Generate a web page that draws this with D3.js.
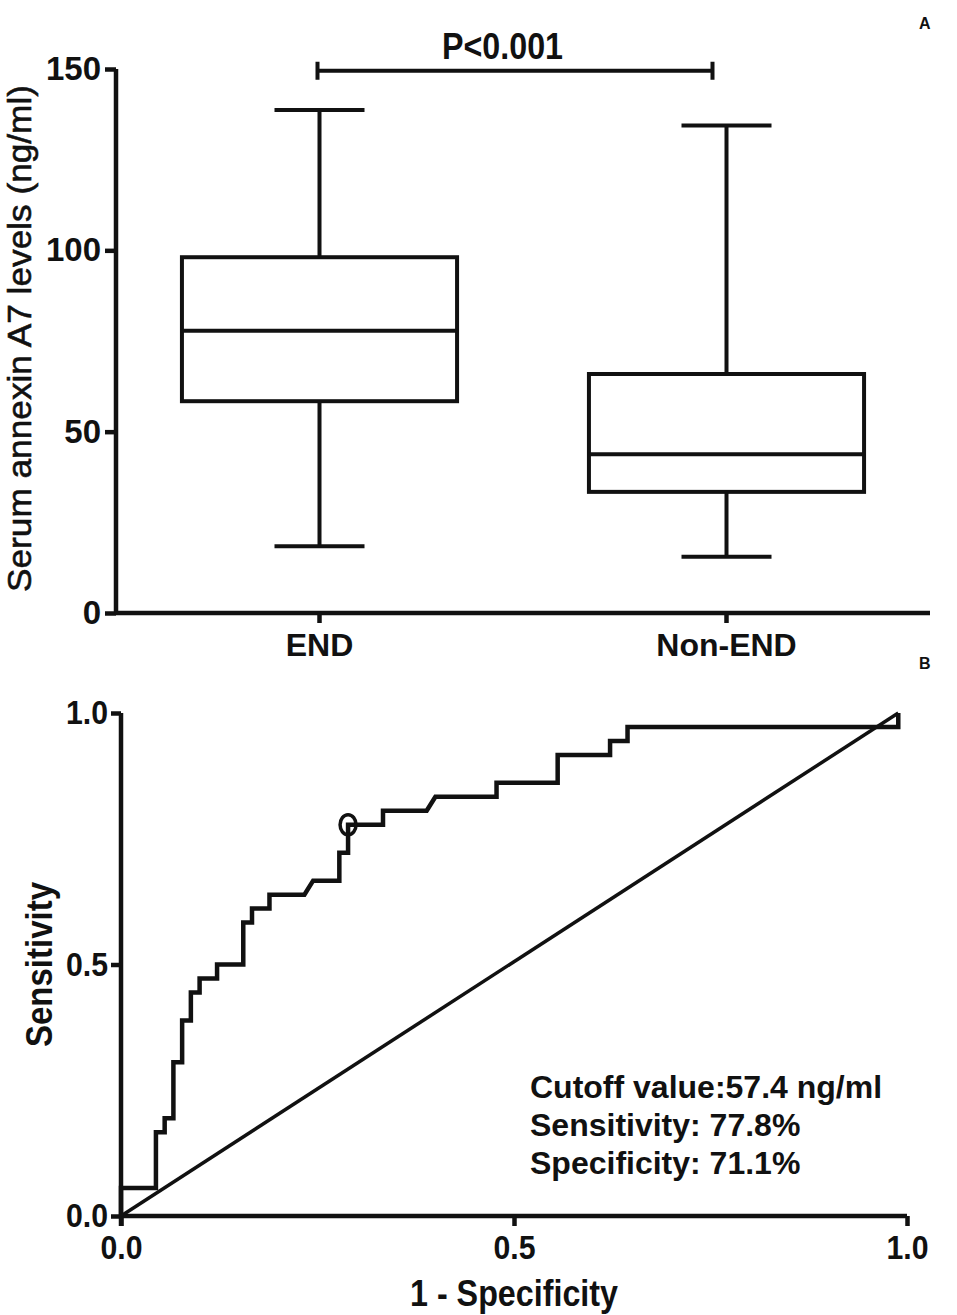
<!DOCTYPE html>
<html>
<head>
<meta charset="utf-8">
<script src="https://cdn.jsdelivr.net/npm/d3@7"></script>
<style>
  html, body { margin: 0; padding: 0; background: #fff; }
  svg text { font-family: "Liberation Sans", Arial, sans-serif; fill: #111; }
</style>
</head>
<body>
<div id="chart"></div>
<script>
// Panel A: box plot summary (ng/ml)
const groups = ["END", "Non-END"];
const boxMin = [18.4, 15.5];
const boxQ1 = [58.4, 33.4];
const boxMedian = [77.8, 43.8];
const boxQ3 = [98.1, 65.9];
const boxMax = [138.7, 134.4];
const boxTicks = [0, 50, 100, 150];
const pLabel = "P<0.001";

// Panel B: ROC points as counts (END n=36, Non-END n=90)
const endTotal = 36;
const nonEndTotal = 90;
const rocFalsePos = [0, 0, 4, 4, 5, 5, 6, 6, 7, 7, 8, 8, 9, 9, 11, 11, 14, 14, 15, 15, 17, 17,
  21, 22, 25, 25, 26, 26, 30, 30, 35, 36, 43, 43, 50, 50, 56, 56, 58, 58, 89, 89];
const rocTruePos = [0, 2, 2, 6, 6, 7, 7, 11, 11, 14, 14, 16, 16, 17, 17, 18, 18, 21, 21, 22, 22, 23,
  23, 24, 24, 26, 26, 28, 28, 29, 29, 30, 30, 31, 31, 33, 33, 34, 34, 35, 35, 36];
const cutoffFalsePos = 26;
const cutoffTruePos = 28;
const rocTicks = [0, 0.5, 1];
const rocNotes = ["Cutoff value:57.4 ng/ml", "Sensitivity: 77.8%", "Specificity: 71.1%"];

const W = 957;
const H = 1315;
const INK = "#111";
const AXIS_W = 4.5;
const LINE_W = 4;

const svg = d3.select("#chart")
  .append("svg")
  .attr("width", W)
  .attr("height", H);

// narrow bold labels: force the condensed width of the original
const narrowText = (sel, width) =>
  sel.attr("font-weight", "bold")
    .attr("textLength", width)
    .attr("lengthAdjust", "spacingAndGlyphs");

// ---------- Panel A ----------
const yA = d3.scaleLinear().domain([0, 150]).range([613, 69]);
const xA = d3.scaleBand().domain(groups).range([116, 930]);
const boxW = xA.bandwidth() * 0.676;
const capW = 90;

const gA = svg.append("g");

const yAxisA = gA.append("g")
  .attr("transform", `translate(${xA.range()[0]},0)`)
  .call(d3.axisLeft(yA).tickValues(boxTicks).tickSize(11).tickPadding(4).tickFormat(d3.format("d")));
yAxisA.select(".domain").attr("stroke", INK).attr("stroke-width", AXIS_W).attr("d", `M0,${yA(150)}V${yA(0)}`);
yAxisA.selectAll(".tick line").attr("stroke", INK).attr("stroke-width", AXIS_W);
yAxisA.selectAll(".tick text")
  .attr("font-size", 33).attr("font-weight", "bold").attr("fill", INK);

const xAxisA = gA.append("g")
  .attr("transform", `translate(0,${yA(0)})`)
  .call(d3.axisBottom(xA).tickSize(10).tickPadding(10));
xAxisA.select(".domain").attr("stroke", INK).attr("stroke-width", AXIS_W)
  .attr("d", `M${xA.range()[0]},0H${xA.range()[1]}`);
xAxisA.selectAll(".tick line").attr("stroke", INK).attr("stroke-width", AXIS_W);
xAxisA.selectAll(".tick text")
  .attr("font-size", 32).attr("font-weight", "bold").attr("fill", INK);

gA.append("text")
  .attr("transform", `translate(31,${(85 + 592) / 2}) rotate(-90)`)
  .attr("text-anchor", "middle")
  .attr("font-size", 34)
  .attr("stroke", INK)
  .attr("stroke-width", 0.6)
  .attr("textLength", 507)
  .attr("lengthAdjust", "spacingAndGlyphs")
  .text("Serum annexin A7 levels (ng/ml)");

const boxes = gA.append("g")
  .attr("fill", "none")
  .attr("stroke", INK)
  .attr("stroke-width", LINE_W)
  .selectAll("g")
  .data(groups)
  .join("g")
  .attr("transform", d => `translate(${xA(d) + xA.bandwidth() / 2},0)`);

boxes.append("line")
  .attr("y1", (d, i) => yA(boxMax[i])).attr("y2", (d, i) => yA(boxQ3[i]));
boxes.append("line")
  .attr("y1", (d, i) => yA(boxQ1[i])).attr("y2", (d, i) => yA(boxMin[i]));
boxes.append("line")
  .attr("x1", -capW / 2).attr("x2", capW / 2)
  .attr("y1", (d, i) => yA(boxMax[i])).attr("y2", (d, i) => yA(boxMax[i]));
boxes.append("line")
  .attr("x1", -capW / 2).attr("x2", capW / 2)
  .attr("y1", (d, i) => yA(boxMin[i])).attr("y2", (d, i) => yA(boxMin[i]));
boxes.append("rect")
  .attr("x", -boxW / 2).attr("width", boxW)
  .attr("y", (d, i) => yA(boxQ3[i]))
  .attr("height", (d, i) => yA(boxQ1[i]) - yA(boxQ3[i]));
boxes.append("line")
  .attr("x1", -boxW / 2).attr("x2", boxW / 2)
  .attr("y1", (d, i) => yA(boxMedian[i])).attr("y2", (d, i) => yA(boxMedian[i]));

// significance bracket
const bx1 = xA("END") + xA.bandwidth() / 2 - 2;
const bx2 = xA("Non-END") + xA.bandwidth() / 2 - 14;
const by = yA(149.5);
gA.append("path")
  .attr("fill", "none").attr("stroke", INK).attr("stroke-width", LINE_W)
  .attr("d", `M${bx1},${by - 9}V${by + 9}M${bx1},${by}H${bx2}M${bx2},${by - 9}V${by + 9}`);
gA.append("text")
  .attr("x", 442).attr("y", 59)
  .attr("font-size", 36)
  .call(narrowText, 121)
  .text(pLabel);

gA.append("text")
  .attr("x", 919).attr("y", 29)
  .attr("font-size", 16).attr("font-weight", "bold")
  .text("A");

// ---------- Panel B ----------
const xB = d3.scaleLinear().domain([0, 1]).range([121, 907]);
const yB = d3.scaleLinear().domain([0, 1]).range([1216, 713]);
const gB = svg.append("g");

const yAxisB = gB.append("g")
  .attr("transform", `translate(${xB(0)},0)`)
  .call(d3.axisLeft(yB).tickValues(rocTicks).tickSize(10).tickPadding(3).tickFormat(d3.format(".1f")));
yAxisB.select(".domain").attr("stroke", INK).attr("stroke-width", AXIS_W)
  .attr("d", `M0,${yB(1)}V${yB(0) + 10}`);
yAxisB.selectAll(".tick line").attr("stroke", INK).attr("stroke-width", AXIS_W);
yAxisB.selectAll(".tick text")
  .attr("font-size", 33).attr("fill", INK)
  .call(narrowText, 42);

const xAxisB = gB.append("g")
  .attr("transform", `translate(0,${yB(0)})`)
  .call(d3.axisBottom(xB).tickValues(rocTicks).tickSize(10).tickPadding(10).tickFormat(d3.format(".1f")));
xAxisB.select(".domain").attr("stroke", INK).attr("stroke-width", AXIS_W)
  .attr("d", `M${xB(0)},0H${xB(1)}`);
xAxisB.selectAll(".tick line").attr("stroke", INK).attr("stroke-width", AXIS_W);
xAxisB.selectAll(".tick text")
  .attr("font-size", 33).attr("fill", INK)
  .call(narrowText, 42);

gB.append("text")
  .attr("transform", `translate(52,${yB(0.5)}) rotate(-90)`)
  .attr("text-anchor", "middle")
  .attr("font-size", 36)
  .call(narrowText, 165)
  .text("Sensitivity");

gB.append("text")
  .attr("x", xB(0.5)).attr("y", 1306)
  .attr("text-anchor", "middle")
  .attr("font-size", 36)
  .call(narrowText, 208)
  .text("1 - Specificity");

const rocPoints = rocFalsePos.map((fp, i) => [fp / nonEndTotal, rocTruePos[i] / endTotal]);
const rocLine = d3.line()
  .x(d => xB(d[0]))
  .y(d => yB(d[1]));

gB.append("path")
  .datum([rocPoints[0], rocPoints[rocPoints.length - 1]])
  .attr("fill", "none").attr("stroke", INK).attr("stroke-width", 3.5)
  .attr("d", rocLine);

gB.append("path")
  .datum(rocPoints)
  .attr("fill", "none").attr("stroke", INK).attr("stroke-width", 4.5)
  .attr("stroke-linejoin", "miter")
  .attr("d", rocLine);

gB.append("ellipse")
  .attr("cx", xB(cutoffFalsePos / nonEndTotal))
  .attr("cy", yB(cutoffTruePos / endTotal))
  .attr("rx", 8).attr("ry", 10)
  .attr("fill", "none").attr("stroke", INK).attr("stroke-width", 3.5);

gB.append("g")
  .selectAll("text")
  .data(rocNotes)
  .join("text")
  .attr("x", 530)
  .attr("y", (d, i) => 1098 + i * 38)
  .attr("font-size", 32).attr("font-weight", "bold")
  .text(d => d);

gB.append("text")
  .attr("x", 919).attr("y", 669)
  .attr("font-size", 16).attr("font-weight", "bold")
  .text("B");
</script>
</body>
</html>
